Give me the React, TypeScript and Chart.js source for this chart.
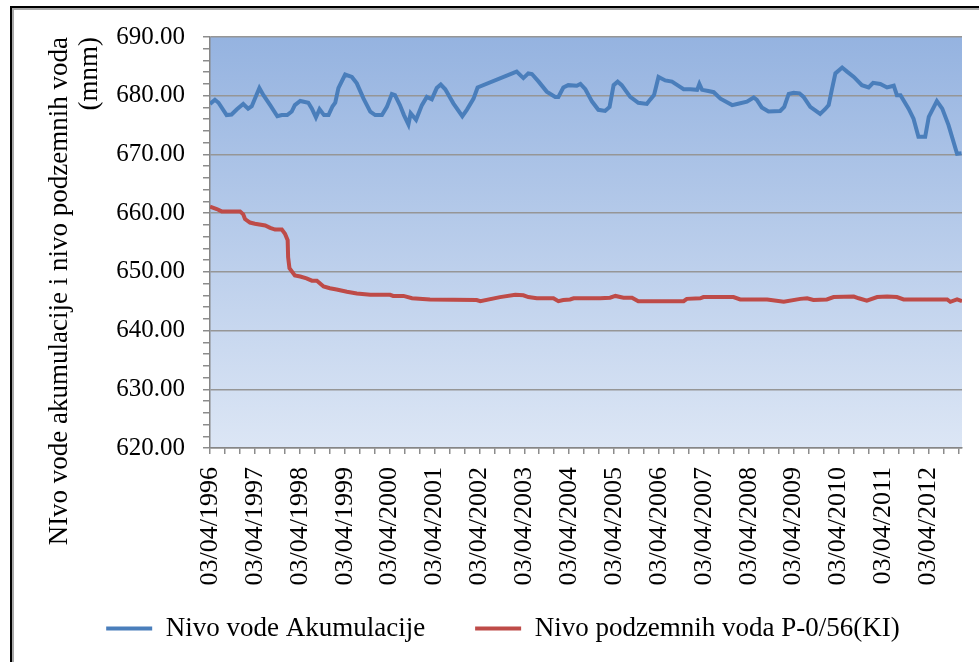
import React, { useEffect, useRef } from "react";
import { Chart, registerables } from "chart.js";

Chart.register(...registerables);

// Reservoir level (Nivo vode Akumulacije) — decimal years / m a.s.l.
const blueYears = [
  1996.25, 1996.36, 1996.44, 1996.62, 1996.73, 1996.85, 1996.99, 1997.1, 1997.18, 1997.35,
  1997.44, 1997.59, 1997.75, 1997.85, 1997.97, 1998.07, 1998.14, 1998.26, 1998.44, 1998.52,
  1998.61, 1998.69, 1998.79, 1998.89, 1998.98, 1999.04, 1999.11, 1999.26, 1999.41, 1999.52,
  1999.67, 1999.82, 1999.93, 2000.08, 2000.19, 2000.3, 2000.37, 2000.48, 2000.57, 2000.67,
  2000.72, 2000.84, 2000.97, 2001.08, 2001.19, 2001.3, 2001.39, 2001.49, 2001.67, 2001.87,
  2001.97, 2002.12, 2002.21, 2003.01, 2003.08, 2003.23, 2003.34, 2003.42, 2003.57, 2003.75,
  2003.94, 2004.01, 2004.12, 2004.23, 2004.42, 2004.5, 2004.61, 2004.76, 2004.9, 2005.05,
  2005.15, 2005.24, 2005.33, 2005.42, 2005.61, 2005.79, 2005.98, 2006.05, 2006.14, 2006.24,
  2006.39, 2006.54, 2006.72, 2006.8, 2006.95, 2007.1, 2007.15, 2007.21, 2007.35, 2007.47,
  2007.62, 2007.88, 2007.99, 2008.21, 2008.36, 2008.43, 2008.54, 2008.69, 2008.95, 2009.04,
  2009.14, 2009.25, 2009.38, 2009.47, 2009.62, 2009.84, 2009.95, 2010.03, 2010.1, 2010.18,
  2010.33, 2010.44, 2010.59, 2010.77, 2010.92, 2011.02, 2011.18, 2011.33, 2011.48, 2011.55,
  2011.63, 2011.81, 2011.92, 2012.03, 2012.18, 2012.26, 2012.44, 2012.56, 2012.7, 2012.89,
  2012.99,
];
const blueLevels = [
  678.6, 679.3, 678.8, 676.7, 676.8, 677.7, 678.6, 677.8, 678.2, 681.3,
  680.1, 678.4, 676.5, 676.7, 676.7, 677.3, 678.4, 679.1, 678.8, 677.8,
  676.3, 677.7, 676.7, 676.7, 678.2, 678.8, 681.3, 683.6, 683.2, 682.1,
  679.5, 677.3, 676.7, 676.7, 678.1, 680.3, 680.1, 678.4, 676.7, 675.1,
  677.0, 675.9, 678.4, 679.8, 679.4, 681.3, 681.9, 681.1, 678.7, 676.5,
  677.6, 679.5, 681.4, 683.9, 684.1, 683.0, 683.8, 683.7, 682.4, 680.7,
  679.8, 679.8, 681.4, 681.8, 681.7, 682.0, 681.1, 679.0, 677.6, 677.4,
  678.1, 681.8, 682.4, 681.8, 679.8, 678.8, 678.6, 679.3, 680.1, 683.2,
  682.6, 682.4, 681.5, 681.1, 681.1, 681.0, 682.0, 681.0, 680.8, 680.6,
  679.5, 678.4, 678.6, 679.0, 679.7, 679.3, 678.0, 677.3, 677.4, 678.1,
  680.3, 680.5, 680.4, 679.8, 678.1, 676.9, 677.7, 678.4, 681.0, 683.8,
  684.8, 684.1, 683.2, 681.8, 681.4, 682.2, 682.0, 681.4, 681.7, 680.1,
  680.1, 677.8, 676.1, 673.0, 673.0, 676.4, 679.1, 677.8, 675.0, 670.1,
  670.2,
];

// Groundwater level (Nivo podzemnih voda P-0/56(KI))
const redYears = [
  1996.25, 1996.4, 1996.51, 1996.92, 1996.99, 1997.03, 1997.14, 1997.25, 1997.48, 1997.59,
  1997.7, 1997.85, 1997.92, 1997.98, 1997.99, 1998.02, 1998.14, 1998.26, 1998.4, 1998.52,
  1998.63, 1998.78, 1998.92, 1999.07, 1999.3, 1999.52, 1999.82, 2000.26, 2000.33, 2000.56,
  2000.75, 2001.15, 2002.19, 2002.27, 2002.71, 2003.05, 2003.23, 2003.34, 2003.53, 2003.9,
  2004.01, 2004.12, 2004.27, 2004.35, 2004.94, 2005.16, 2005.28, 2005.46, 2005.65, 2005.79,
  2006.8, 2006.87, 2007.17, 2007.24, 2007.91, 2008.06, 2008.66, 2009.03, 2009.4, 2009.55,
  2009.69, 2009.99, 2010.14, 2010.59, 2010.7, 2010.88, 2011.11, 2011.33, 2011.55, 2011.7,
  2012.67, 2012.74, 2012.89, 2013.0,
];
const redLevels = [
  661.1, 660.7, 660.3, 660.3, 659.8, 659.0, 658.4, 658.2, 657.9, 657.5,
  657.2, 657.2, 656.5, 655.4, 652.5, 650.6, 649.4, 649.2, 648.9, 648.5,
  648.5, 647.5, 647.2, 647.0, 646.6, 646.3, 646.1, 646.1, 645.9, 645.9,
  645.5, 645.3, 645.2, 645.0, 645.7, 646.1, 646.0, 645.7, 645.5, 645.5,
  645.0, 645.2, 645.3, 645.5, 645.5, 645.6, 645.9, 645.6, 645.6, 645.0,
  645.0, 645.4, 645.5, 645.7, 645.7, 645.3, 645.3, 644.9, 645.4, 645.5,
  645.2, 645.3, 645.7, 645.8, 645.5, 645.1, 645.7, 645.8, 645.7, 645.3,
  645.3, 644.9, 645.3, 645.0,
];

// x axis: label every year on 03/04, minor ticks every 4 months
const labelYears = [
  1996, 1997, 1998, 1999, 2000, 2001, 2002, 2003, 2004, 2005, 2006, 2007, 2008, 2009, 2010, 2011, 2012,
];
const labelPrefix = "03/04/";
const xMin = 1996.25;
const xMax = 2013.0;

const yMin = 620;
const yMax = 690;
const yMajor = 10;
const yMinor = 2;

const seriesNames = ["Nivo vode Akumulacije", "Nivo podzemnih voda P-0/56(KI)"];
const seriesColors = ["#4A7EBB", "#BE4B48"];
const yTitle = ["NIvo vode akumulacije i nivo podzemnih voda", "(mnm)"];

const SERIF = "'Liberation Serif', 'Times New Roman', serif";

const bgPlugin = {
  id: "plotBg",
  afterLayout(chart: any) {
    const lg = chart.legend;
    if (lg) {
      lg.left += 15;
      lg.right += 15;
      lg.top -= 28;
      lg.bottom -= 28;
    }
  },
  beforeDraw(chart: any) {
    const { ctx, chartArea } = chart;
    if (!chartArea) return;
    const g = ctx.createLinearGradient(0, chartArea.top, 0, chartArea.bottom);
    g.addColorStop(0, "#95B3E0");
    g.addColorStop(1, "#DCE6F5");
    ctx.save();
    ctx.fillStyle = g;
    ctx.fillRect(chartArea.left, chartArea.top, chartArea.right - chartArea.left, chartArea.bottom - chartArea.top);
    ctx.restore();
  },
};

export default function App() {
  const ref = useRef<HTMLCanvasElement | null>(null);

  useEffect(() => {
    if (!ref.current) return;
    const blueData = blueYears.map((x, i) => ({ x, y: blueLevels[i] }));
    const redData = redYears.map((x, i) => ({ x, y: redLevels[i] }));

    const chart = new Chart(ref.current, {
      type: "line",
      data: {
        datasets: [
          {
            label: seriesNames[0],
            data: blueData,
            borderColor: seriesColors[0],
            backgroundColor: seriesColors[0],
            borderWidth: 4,
            pointRadius: 0,
            tension: 0,
          },
          {
            label: seriesNames[1],
            data: redData,
            borderColor: seriesColors[1],
            backgroundColor: seriesColors[1],
            borderWidth: 4,
            pointRadius: 0,
            tension: 0,
          },
        ],
      },
      plugins: [bgPlugin],
      options: {
        animation: false,
        responsive: false,
        maintainAspectRatio: false,
        layout: { padding: { left: 14, top: 37, right: 17, bottom: -18 } },
        plugins: {
          tooltip: { enabled: false },
          legend: {
            position: "bottom",
            labels: {
              boxWidth: 46,
              boxHeight: 4,
              padding: 50,
              color: "#000",
              font: { family: SERIF, size: 27 },
              generateLabels: (c: any) =>
                Chart.defaults.plugins.legend.labels.generateLabels(c).map((l: any) => ({
                  ...l,
                  lineWidth: 0,
                  fillStyle: l.strokeStyle,
                })),
            },
          },
        },
        scales: {
          x: {
            type: "linear",
            min: xMin,
            max: xMax,
            afterBuildTicks: (scale: any) => {
              const t = [];
              for (let k = 0; xMin + k / 3 <= xMax + 1e-9; k++) t.push({ value: xMin + k / 3 });
              scale.ticks = t;
            },
            afterFit: (scale: any) => {
              scale.height = 145;
              scale.paddingLeft = 0;
              scale.paddingRight = 0;
            },
            ticks: {
              autoSkip: false,
              minRotation: 90,
              maxRotation: 90,
              padding: 13,
              color: "#000",
              font: { family: SERIF, size: 26 },
              callback: (_v: any, i: number) => (i % 3 === 0 && labelYears[i / 3] !== undefined ? labelPrefix + labelYears[i / 3] : ""),
            },
            grid: {
              drawOnChartArea: false,
              drawTicks: true,
              tickLength: 6,
              tickColor: "#8c8c8c",
              lineWidth: 1.5,
            },
            border: { display: true, color: "#868686", width: 1.5 },
          },
          y: {
            type: "linear",
            min: yMin,
            max: yMax,
            afterBuildTicks: (scale: any) => {
              const t = [];
              for (let v = yMin; v <= yMax; v += yMinor) t.push({ value: v });
              scale.ticks = t;
            },
            afterFit: (scale: any) => {
              scale.width = 196;
            },
            ticks: {
              autoSkip: false,
              padding: 18,
              color: "#000",
              font: { family: SERIF, size: 25 },
              callback: (v: any) => (v % yMajor === 0 ? Number(v).toFixed(2) : ""),
            },
            grid: {
              drawTicks: true,
              tickLength: 7,
              color: (ctx: any) => (ctx.tick && ctx.tick.value % yMajor === 0 ? "#969696" : "rgba(0,0,0,0)"),
              tickColor: "#8c8c8c",
              lineWidth: 1.5,
            },
            border: { display: true, color: "#868686", width: 1.5 },
            title: {
              display: true,
              text: yTitle,
              align: "end",
              color: "#000",
              font: { family: SERIF, size: 27, lineHeight: 1.11 },
              padding: { top: 31, bottom: 0 },
            },
          },
        },
      },
    });
    return () => chart.destroy();
  }, []);

  return (
    <div
      style={{
        position: "fixed",
        left: 0,
        top: 0,
        width: 979,
        height: 662,
        overflow: "hidden",
        background: "#fff",
      }}
    >
      <div
        style={{
          position: "absolute",
          left: 10,
          top: 6,
          width: 1000,
          height: 700,
          borderTop: "2px solid #000",
          borderLeft: "2px solid #000",
          boxShadow: "inset 2px 2px 0 #a8a8a8",
        }}
      />
      <canvas ref={ref} width={979} height={662} style={{ position: "absolute", left: 0, top: 0, width: 979, height: 662 }} />
    </div>
  );
}
